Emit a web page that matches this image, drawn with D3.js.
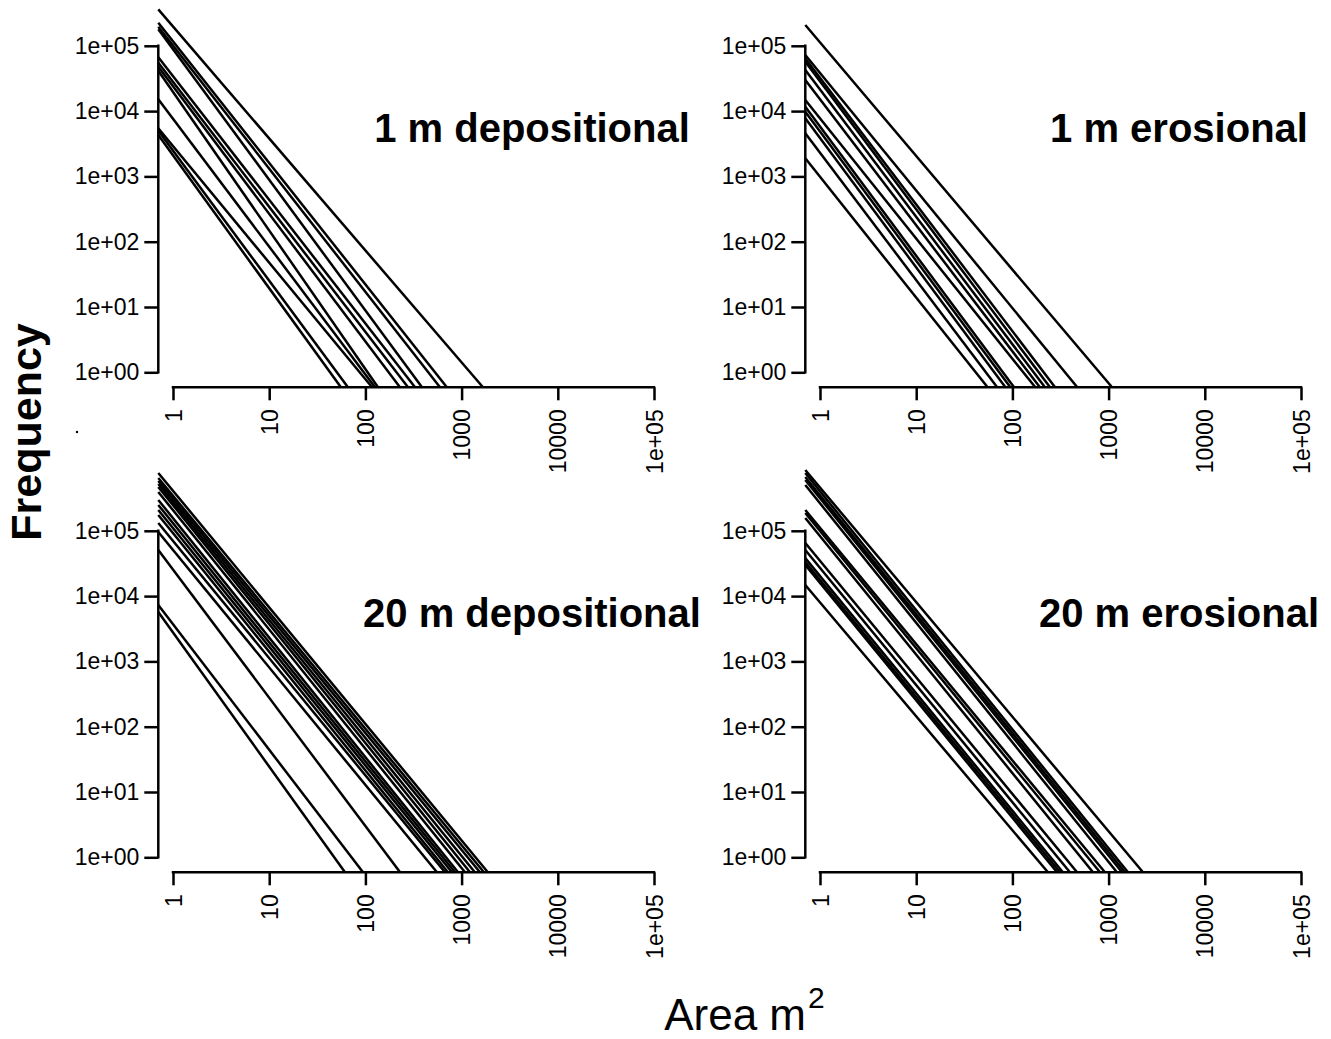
<!DOCTYPE html>
<html>
<head>
<meta charset="utf-8">
<script src="https://cdn.jsdelivr.net/npm/d3@7/dist/d3.min.js"></script>
<style>
  html, body { margin: 0; padding: 0; background: #fff; }
  svg { display: block; }
  text { font-family: "Liberation Sans", Arial, Helvetica, sans-serif; fill: #000; }
</style>
</head>
<body>
<svg id="chart" width="1331" height="1039"></svg>
<script>
// ---- data (power-law fits: Frequency = intercept * Area^-exponent) ----
const panelTitles = ["1 m depositional", "1 m erosional", "20 m depositional", "20 m erosional"];

const dep1Intercepts = [1.98e5, 1.17e5, 1.01e5, 8.85e4, 3.43e4, 2.81e4, 2.40e4, 1.97e4, 7.62e3, 2.91e3, 2.48e3, 2.10e3];
const dep1Exponents  = [1.715, 1.861, 1.886, 2.0, 1.894, 1.915, 1.954, 2.123, 1.958, 1.785, 1.993, 2.035];

const ero1Intercepts = [1.13e5, 3.84e4, 3.24e4, 2.86e4, 2.14e4, 1.52e4, 7.73e3, 5.81e3, 4.88e3, 3.86e3, 2.30e3, 986];
const ero1Exponents  = [1.74, 1.80, 1.94, 1.96, 1.95, 1.93, 1.84, 1.98, 1.98, 1.98, 1.95, 1.85];

const dep20Intercepts = [4.10e5, 3.44e5, 3.08e5, 2.76e5, 2.47e5, 2.07e5, 1.56e5, 1.31e5, 1.10e5, 9.20e4, 7.00e4, 5.09e4, 2.55e4, 3.72e3, 2.77e3];
const dep20Exponents  = [1.785, 1.784, 1.792, 1.807, 1.821, 1.827, 1.830, 1.824, 1.818, 1.817, 1.795, 1.799, 1.964, 1.924, 2.054];

const ero20Intercepts = [4.60e5, 4.04e5, 3.51e5, 3.16e5, 2.64e5, 1.11e5, 9.95e4, 8.28e4, 3.47e4, 2.70e4, 2.03e4, 1.77e4, 1.59e4, 8.0e3];
const ero20Exponents  = [1.755, 1.823, 1.822, 1.825, 1.831, 1.781, 1.796, 1.814, 1.785, 1.794, 1.797, 1.795, 1.798, 1.744];

const yTickValues = [1, 10, 100, 1000, 10000, 100000];
const yTickLabels = ["1e+00", "1e+01", "1e+02", "1e+03", "1e+04", "1e+05"];
const xTickValues = [1, 10, 100, 1000, 10000, 100000];
const xTickLabels = ["1", "10", "100", "1000", "10000", "1e+05"];

const xAxisTitle = "Area m";
const xAxisTitleSup = "2";
const yAxisTitle = "Frequency";

const panelIntercepts = [dep1Intercepts, ero1Intercepts, dep20Intercepts, ero20Intercepts];
const panelExponents  = [dep1Exponents, ero1Exponents, dep20Exponents, ero20Exponents];

// ---- layout ----
const svg = d3.select("#chart");
const colStep = 647, rowStep = 485;
const xDec = 96.2, yDec = 65.3;
const xMinLog = -0.1528, yMinLog = -0.2297;
const sw = 2.5;

panelTitles.forEach((title, i) => {
  const col = i % 2, row = Math.floor(i / 2);
  const xL = 158.3 + colStep * col;
  const x1px = 173 + colStep * col;
  const yB = 387.3 + rowStep * row;
  const y1px = 372.3 + rowStep * row;

  const x = d3.scaleLog().domain([Math.pow(10, xMinLog), 1e5]).range([xL, x1px + 5 * xDec]);
  const y = d3.scaleLog().domain([Math.pow(10, yMinLog), 1e5]).range([yB, y1px - 5 * yDec]);

  const g = svg.append("g");

  // fitted lines
  const xa = x.domain()[0], ymin = y.domain()[0];
  const lines = panelIntercepts[i].map((c, k) => {
    const b = panelExponents[i][k];
    return [[xa, c * Math.pow(xa, -b)], [Math.pow(c / ymin, 1 / b), ymin]];
  });
  g.selectAll("path.fit").data(lines).enter().append("path")
    .attr("class", "fit")
    .attr("d", d3.line().x(d => x(d[0])).y(d => y(d[1])))
    .attr("fill", "none").attr("stroke", "#000").attr("stroke-width", sw);

  // y axis
  const ya = g.append("g").attr("transform", `translate(${xL},0)`)
    .call(d3.axisLeft(y).tickValues(yTickValues)
      .tickFormat((d, j) => yTickLabels[j]).tickSize(14).tickPadding(5));
  ya.select(".domain").remove();
  ya.selectAll("line").attr("stroke-width", sw);
  ya.selectAll("text").style("font-size", "23px");
  ya.append("line").attr("x1", 0).attr("x2", 0)
    .attr("y1", y(1)).attr("y2", y(1e5))
    .attr("stroke", "#000").attr("stroke-width", sw).attr("stroke-linecap", "square");

  // x axis
  const xaG = g.append("g").attr("transform", `translate(0,${yB})`)
    .call(d3.axisBottom(x).tickValues(xTickValues)
      .tickFormat((d, j) => xTickLabels[j]).tickSize(13));
  xaG.select(".domain").remove();
  xaG.selectAll("line").attr("stroke-width", sw);
  xaG.selectAll("text")
    .style("font-size", "23px")
    .attr("transform", "rotate(-90)")
    .attr("text-anchor", "end")
    .attr("x", -22).attr("y", 0).attr("dy", "0.35em");
  xaG.append("line").attr("y1", 0).attr("y2", 0)
    .attr("x1", x(1)).attr("x2", x(1e5))
    .attr("stroke", "#000").attr("stroke-width", sw).attr("stroke-linecap", "square");

  // panel title
  g.append("text")
    .attr("x", 532 + colStep * col).attr("y", 141.5 + rowStep * row)
    .attr("text-anchor", "middle")
    .style("font-size", "40px").style("font-weight", "bold")
    .text(title);
});

// outer axis titles
svg.append("text")
  .attr("transform", "translate(41,432) rotate(-90)")
  .attr("text-anchor", "middle")
  .style("font-size", "43px").style("font-weight", "bold")
  .text(yAxisTitle);

svg.append("text")
  .attr("x", 806).attr("y", 1030)
  .attr("text-anchor", "end")
  .style("font-size", "44px")
  .text(xAxisTitle);
svg.append("text")
  .attr("x", 808).attr("y", 1008)
  .attr("text-anchor", "start")
  .style("font-size", "30px")
  .text(xAxisTitleSup);

// small stray dot in the original figure
svg.append("circle").attr("cx", 77).attr("cy", 432).attr("r", 1.2).attr("fill", "#000");
</script>
</body>
</html>
